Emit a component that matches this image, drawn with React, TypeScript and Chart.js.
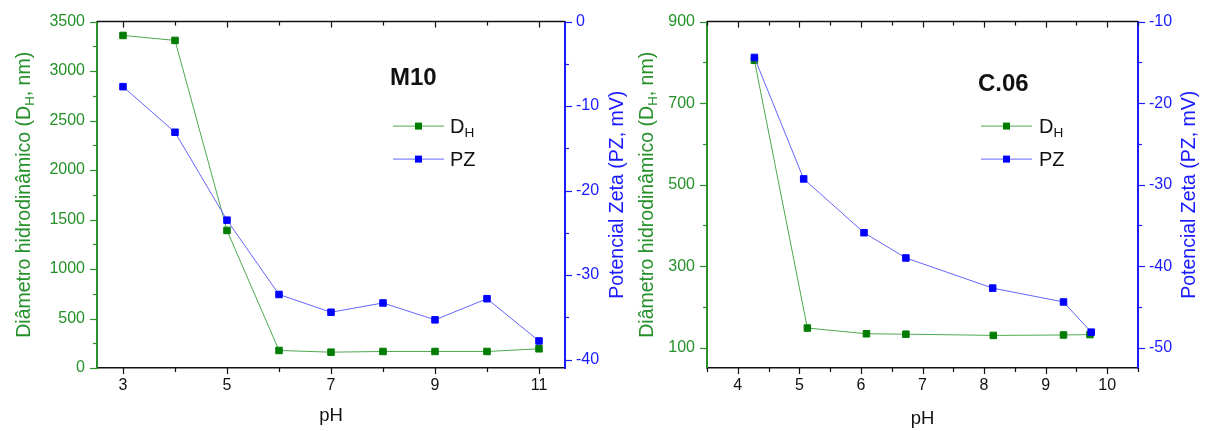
import { useEffect, useRef } from "react";
import { Chart, registerables } from "chart.js";

Chart.register(...registerables);

const FONT = '"Liberation Sans", Arial, Helvetica, sans-serif';

// Colours
const GREEN_AXIS = "#2b8f2b";
const GREEN_TEXT = "#26902a";
const GREEN_MARK = "#007c00";
const GREEN_LINE = "#4ea84e";
const BLUE_AXIS = "#1a1aff";
const BLUE_TEXT = "#1a1aff";
const BLUE_MARK = "#0000ff";
const BLUE_LINE = "#6464ff";
const BLACK = "#111111";

// ---- M10 sample ----
const m10PH = [3, 4, 5, 6, 7, 8, 9, 10, 11];
const m10DH = [3360, 3310, 1390, 177, 160, 167, 167, 167, 194];
const m10PZ = [-7.7, -13.1, -23.5, -32.3, -34.4, -33.3, -35.3, -32.8, -37.8];
const m10PHTicks = [3, 5, 7, 9, 11];
const m10PHMinor = [4, 6, 8, 10];
const m10DHTicks = [0, 500, 1000, 1500, 2000, 2500, 3000, 3500];
const m10DHMinor = [250, 750, 1250, 1750, 2250, 2750, 3250];
const m10PZTicks = [0, -10, -20, -30, -40];
const m10PZMinor = [-5, -15, -25, -35];

// ---- C.06 sample ----
const c06PHDH = [4.27, 5.13, 6.09, 6.73, 8.15, 9.29, 9.72];
const c06DH = [805, 148, 134, 133, 130, 131, 132];
const c06PHPZ = [4.27, 5.07, 6.05, 6.73, 8.14, 9.29, 9.74];
const c06PZ = [-14.4, -29.3, -35.9, -39.0, -42.7, -44.4, -48.1];
const c06PHTicks = [4, 5, 6, 7, 8, 9, 10];
const c06PHMinor = [3.5, 4.5, 5.5, 6.5, 7.5, 8.5, 9.5, 10.5];
const c06DHTicks = [100, 300, 500, 700, 900];
const c06DHMinor = [200, 400, 600, 800];
const c06PZTicks = [-10, -20, -30, -40, -50];
const c06PZMinor = [-15, -25, -35, -45];

type Part = { t: string; sub?: boolean };

const DH_TITLE: Part[] = [{ t: "Diâmetro hidrodinâmico (D" }, { t: "H", sub: true }, { t: ", nm)" }];
const PZ_TITLE: Part[] = [{ t: "Potencial Zeta (PZ, mV)" }];
const X_TITLE: Part[] = [{ t: "pH" }];
const DH_LABEL: Part[] = [{ t: "D" }, { t: "H", sub: true }];
const PZ_LABEL: Part[] = [{ t: "PZ" }];

interface PanelSpec {
  name: string;
  width: number;
  leftW: number;
  rightW: number;
  bottomH: number;
  top: number;
  xMin: number;
  xMax: number;
  xTicks: number[];
  xMinor: number[];
  dhMin: number;
  dhMax: number;
  dhTicks: number[];
  dhMinor: number[];
  pzMin: number;
  pzMax: number;
  pzTicks: number[];
  pzMinor: number[];
  dhX: number[];
  dhY: number[];
  pzX: number[];
  pzY: number[];
  leftTitleDx: number;
  rightTitleDx: number;
  xTitleDy: number;
  nameDx: number;
  nameDy: number;
  legDx0: number;
  legDx1: number;
  legTextDx: number;
  legDy: number[];
}

const m10Spec: PanelSpec = {
  name: "M10",
  width: 630,
  leftW: 97,
  rightW: 65,
  bottomH: 63,
  top: 19,
  xMin: 2.5,
  xMax: 11.5,
  xTicks: m10PHTicks,
  xMinor: m10PHMinor,
  dhMin: 0,
  dhMax: 3500,
  dhTicks: m10DHTicks,
  dhMinor: m10DHMinor,
  pzMin: -41,
  pzMax: 0,
  pzTicks: m10PZTicks,
  pzMinor: m10PZMinor,
  dhX: m10PH,
  dhY: m10DH,
  pzX: m10PH,
  pzY: m10PZ,
  leftTitleDx: -74,
  rightTitleDx: 50.5,
  xTitleDy: 47,
  nameDx: 293,
  nameDy: 55,
  legDx0: 296,
  legDx1: 347,
  legTextDx: 353,
  legDy: [104, 137],
};

const c06Spec: PanelSpec = {
  name: "C.06",
  width: 577,
  leftW: 77,
  rightW: 69,
  bottomH: 63,
  top: 19,
  xMin: 3.5,
  xMax: 10.5,
  xTicks: c06PHTicks,
  xMinor: c06PHMinor,
  dhMin: 50,
  dhMax: 900,
  dhTicks: c06DHTicks,
  dhMinor: c06DHMinor,
  pzMin: -52.5,
  pzMax: -10,
  pzTicks: c06PZTicks,
  pzMinor: c06PZMinor,
  dhX: c06PHDH,
  dhY: c06DH,
  pzX: c06PHPZ,
  pzY: c06PZ,
  leftTitleDx: -61,
  rightTitleDx: 50,
  xTitleDy: 50,
  nameDx: 271,
  nameDy: 61,
  legDx0: 274,
  legDx1: 325,
  legTextDx: 332,
  legDy: [104, 137],
};

function drawRich(
  ctx: CanvasRenderingContext2D,
  parts: Part[],
  x: number,
  baseline: number,
  size: number,
  color: string,
  align: "left" | "center",
  weight = "normal"
) {
  const subSize = size * 0.68;
  const widths = parts.map((p) => {
    ctx.font = `${weight} ${p.sub ? subSize : size}px ${FONT}`;
    return ctx.measureText(p.t).width;
  });
  const total = widths.reduce((a, b) => a + b, 0);
  let cx = align === "center" ? x - total / 2 : x;
  ctx.fillStyle = color;
  ctx.textAlign = "left";
  ctx.textBaseline = "alphabetic";
  parts.forEach((p, i) => {
    ctx.font = `${weight} ${p.sub ? subSize : size}px ${FONT}`;
    ctx.fillText(p.t, cx, p.sub ? baseline + size * 0.22 : baseline);
    cx += widths[i];
  });
}

function seg(ctx: CanvasRenderingContext2D, x0: number, y0: number, x1: number, y1: number) {
  ctx.beginPath();
  ctx.moveTo(x0, y0);
  ctx.lineTo(x1, y1);
  ctx.stroke();
}

// Frame, tick marks, axis titles, panel name and legend
function framePlugin(spec: PanelSpec) {
  return {
    id: "frame",
    afterDraw(chart: Chart) {
      const ctx = chart.ctx;
      const { left, right, top, bottom } = chart.chartArea;
      const xs = chart.scales.x;
      const yl = chart.scales.yDH;
      const yr = chart.scales.yPZ;
      ctx.save();

      // top frame line with inward ticks, bottom outward ticks
      ctx.strokeStyle = BLACK;
      ctx.lineWidth = 1.5;
      seg(ctx, left, top, right, top);
      ctx.lineWidth = 1.2;
      spec.xTicks.forEach((v) => {
        const px = Math.round(xs.getPixelForValue(v)) + 0.5;
        seg(ctx, px, bottom, px, bottom + 6);
        seg(ctx, px, top, px, top + 6);
      });
      spec.xMinor.forEach((v) => {
        const px = Math.round(xs.getPixelForValue(v)) + 0.5;
        seg(ctx, px, bottom, px, bottom + 4);
        seg(ctx, px, top, px, top + 4);
      });

      // left axis ticks
      ctx.strokeStyle = GREEN_AXIS;
      spec.dhTicks.forEach((v) => {
        const py = Math.round(yl.getPixelForValue(v)) + 0.5;
        seg(ctx, left, py, left - 7, py);
      });
      spec.dhMinor.forEach((v) => {
        const py = Math.round(yl.getPixelForValue(v)) + 0.5;
        seg(ctx, left, py, left - 4, py);
      });

      // right axis ticks
      ctx.strokeStyle = BLUE_AXIS;
      spec.pzTicks.forEach((v) => {
        const py = Math.round(yr.getPixelForValue(v)) + 0.5;
        seg(ctx, right, py, right + 7, py);
      });
      spec.pzMinor.forEach((v) => {
        const py = Math.round(yr.getPixelForValue(v)) + 0.5;
        seg(ctx, right, py, right + 4, py);
      });

      // axis titles
      const midY = (top + bottom) / 2;
      const tSize = 19.5;
      ctx.save();
      ctx.translate(left + spec.leftTitleDx, midY);
      ctx.rotate(-Math.PI / 2);
      drawRich(ctx, DH_TITLE, 0, tSize * 0.36, tSize, GREEN_TEXT, "center");
      ctx.restore();
      ctx.save();
      ctx.translate(right + spec.rightTitleDx, midY);
      ctx.rotate(-Math.PI / 2);
      drawRich(ctx, PZ_TITLE, 0, tSize * 0.36, tSize, BLUE_TEXT, "center");
      ctx.restore();
      drawRich(ctx, X_TITLE, (left + right) / 2, bottom + spec.xTitleDy + 18 * 0.36, 18.5, BLACK, "center");

      // panel name
      drawRich(ctx, [{ t: spec.name }], left + spec.nameDx, top + spec.nameDy + 24 * 0.36, 24, BLACK, "left", "bold");

      // legend
      const items = [
        { parts: DH_LABEL, line: GREEN_LINE, mark: GREEN_MARK },
        { parts: PZ_LABEL, line: BLUE_LINE, mark: BLUE_MARK },
      ];
      items.forEach((it, i) => {
        const y = top + spec.legDy[i];
        const x0 = left + spec.legDx0;
        const x1 = left + spec.legDx1;
        ctx.strokeStyle = it.line;
        ctx.lineWidth = 1;
        seg(ctx, x0, y + 0.5, x1, y + 0.5);
        ctx.fillStyle = it.mark;
        const mx = (x0 + x1) / 2;
        ctx.fillRect(mx - 3.5, y - 3, 7, 7);
        drawRich(ctx, it.parts, left + spec.legTextDx, y + 20 * 0.36, 20, BLACK, "left");
      });

      ctx.restore();
    },
  };
}

function buildConfig(spec: PanelSpec): any {
  const tickFont = { family: FONT, size: 16 };
  const noGrid = { display: false, drawTicks: false, tickLength: 0 };
  return {
    type: "line",
    data: {
      datasets: [
        {
          label: "DH",
          data: spec.dhX.map((x, i) => ({ x, y: spec.dhY[i] })),
          yAxisID: "yDH",
          borderColor: GREEN_LINE,
          backgroundColor: GREEN_MARK,
          pointBackgroundColor: GREEN_MARK,
          pointBorderColor: GREEN_MARK,
          pointStyle: "rect",
          pointRadius: 4.6,
          pointBorderWidth: 1,
          borderWidth: 1,
          tension: 0,
          order: 1,
        },
        {
          label: "PZ",
          data: spec.pzX.map((x, i) => ({ x, y: spec.pzY[i] })),
          yAxisID: "yPZ",
          borderColor: BLUE_LINE,
          backgroundColor: BLUE_MARK,
          pointBackgroundColor: BLUE_MARK,
          pointBorderColor: BLUE_MARK,
          pointStyle: "rect",
          pointRadius: 4.6,
          pointBorderWidth: 1,
          borderWidth: 1,
          tension: 0,
          order: 0,
        },
      ],
    },
    options: {
      responsive: false,
      maintainAspectRatio: false,
      animation: false,
      events: [],
      layout: { padding: { top: spec.top, left: 0, right: 0, bottom: 0 } },
      plugins: { legend: { display: false }, tooltip: { enabled: false } },
      scales: {
        x: {
          type: "linear",
          position: "bottom",
          min: spec.xMin,
          max: spec.xMax,
          grid: noGrid,
          border: { display: true, color: BLACK, width: 1.5 },
          ticks: {
            font: tickFont,
            color: BLACK,
            padding: 8,
            autoSkip: false,
            maxRotation: 0,
            callback: (v: number) => String(v),
          },
          afterBuildTicks: (s: any) => {
            s.ticks = spec.xTicks.map((v) => ({ value: v }));
          },
          afterFit: (s: any) => {
            s.height = spec.bottomH;
          },
        },
        yDH: {
          type: "linear",
          position: "left",
          min: spec.dhMin,
          max: spec.dhMax,
          grid: noGrid,
          border: { display: true, color: GREEN_AXIS, width: 2 },
          ticks: {
            font: tickFont,
            color: GREEN_TEXT,
            padding: 12,
            autoSkip: false,
            callback: (v: number) => String(v),
          },
          afterBuildTicks: (s: any) => {
            s.ticks = spec.dhTicks.map((v) => ({ value: v }));
          },
          afterFit: (s: any) => {
            s.width = spec.leftW;
          },
        },
        yPZ: {
          type: "linear",
          position: "right",
          min: spec.pzMin,
          max: spec.pzMax,
          grid: noGrid,
          border: { display: true, color: BLUE_AXIS, width: 2 },
          ticks: {
            font: tickFont,
            color: BLUE_TEXT,
            padding: 11,
            autoSkip: false,
            callback: (v: number) => String(v),
          },
          afterBuildTicks: (s: any) => {
            s.ticks = spec.pzTicks.map((v) => ({ value: v }));
          },
          afterFit: (s: any) => {
            s.width = spec.rightW;
          },
        },
      },
    },
    plugins: [framePlugin(spec)],
  };
}

function Panel({ spec, left }: { spec: PanelSpec; left: number }) {
  const ref = useRef<HTMLCanvasElement>(null);
  useEffect(() => {
    const chart = new Chart(ref.current!, buildConfig(spec));
    return () => chart.destroy();
  }, [spec]);
  return (
    <canvas
      ref={ref}
      width={spec.width}
      height={431}
      style={{ position: "absolute", left, top: 0, width: spec.width, height: 431 }}
    />
  );
}

export default function App() {
  return (
    <div style={{ position: "absolute", left: 0, top: 0, width: 1207, height: 431, background: "#fff" }}>
      <Panel spec={m10Spec} left={0} />
      <Panel spec={c06Spec} left={630} />
    </div>
  );
}
